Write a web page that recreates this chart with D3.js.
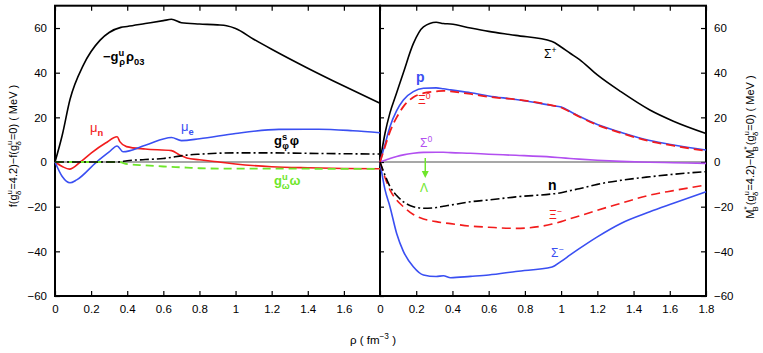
<!DOCTYPE html>
<html>
<head>
<meta charset="utf-8">
<script src="https://cdn.jsdelivr.net/npm/d3@7"></script>
<style>
  body { margin: 0; background: #fff; }
  svg { font-family: "Liberation Sans", Arial, sans-serif; }
</style>
</head>
<body>
<div id="chart"></div>
<script>
// densities (fm^-3) and differences (MeV)
// left panel: fields and chemical potentials
const rhoL = [0, 0.04, 0.083, 0.157, 0.25, 0.3, 0.365, 0.4, 0.5, 0.6, 0.645, 0.7, 0.8, 0.9, 0.95, 1.0, 1.1, 1.2, 1.4, 1.6, 1.8];
const rhoField = [0, 12, 28, 43.4, 54.6, 58, 60.3, 60.7, 62, 63.3, 63.9, 62.4, 61.8, 61.4, 61, 59.8, 55, 50.5, 42, 34, 26.3];

const muRho = [0, 0.04, 0.08, 0.14, 0.2, 0.28, 0.344, 0.36, 0.396, 0.5, 0.645, 0.69, 0.73, 0.8, 0.9, 1.0, 1.2, 1.4, 1.6, 1.8];
const muN =   [0, -2, -3.2, 0, 4, 8.5, 11.3, 9, 6.9, 5.8, 5.1, 3.2, 1.8, 1.0, 0.1, -0.9, -2.1, -2.6, -2.9, -3];
const muERho = [0, 0.04, 0.083, 0.12, 0.23, 0.3, 0.344, 0.377, 0.5, 0.645, 0.7, 0.8, 1.0, 1.24, 1.46, 1.65, 1.8];
const muE =    [0, -6.5, -9.3, -8, 0, 4.5, 7.2, 4.6, 7.5, 11, 9.6, 10.4, 12.8, 14.6, 14.7, 14, 13.1];

const fieldRho = [0, 0.35, 0.4, 0.5, 0.6, 0.73, 0.8, 1.0, 1.2, 1.4, 1.6, 1.8];
const phiField = [0, 0, 0.6, 1.1, 1.6, 3.1, 3.5, 4.1, 4.1, 3.9, 3.7, 3.6];
const omegaField = [0, 0, -0.9, -1.5, -2, -2.5, -2.8, -3, -3, -3, -3.1, -3.1];

// right panel: effective masses of the baryons
const rhoR = [0, 0.028, 0.055, 0.092, 0.129, 0.184, 0.24, 0.31, 0.35, 0.39, 0.5, 0.6, 0.75, 0.95, 1.0, 1.05, 1.1, 1.2, 1.33, 1.49, 1.62, 1.8];
const sigPlus = [0, 13, 22, 31, 40, 53, 60.5, 62.6, 62, 61.8, 60, 58.5, 56.7, 54, 51.5, 48.7, 46, 39, 31.5, 23.3, 18.3, 12.8];
const proton =  [0, 8, 15.8, 23, 27.8, 31.5, 33, 33.2, 32.8, 32.3, 31, 29.6, 28, 25.3, 24.6, 22.6, 20.5, 16.8, 13.3, 9.6, 7.6, 5.4];
const xi0 =     [0, 7, 13.6, 20, 24.8, 29, 30.8, 31.6, 31.9, 31.6, 30.5, 29.2, 28, 25.4, 24.4, 22.4, 20.3, 16.6, 13, 9.3, 7.3, 5.0];
const sig0 =    [0, 0.8, 1.6, 2.5, 3.2, 3.9, 4.3, 4.4, 4.4, 4.2, 3.9, 3.5, 3.0, 2.2, 1.9, 1.6, 1.3, 0.8, 0.3, -0.1, -0.3, -0.6];
const neutron = [0, -6, -11, -15, -17.8, -20, -20.7, -20.4, -19.8, -19.3, -17.8, -17, -15.6, -14.3, -13.8, -12.8, -12, -10, -8.2, -6.6, -5.5, -4.3];
const xiMinus = [0, -7, -12.5, -17, -20, -23.5, -25.5, -26.7, -27.2, -27.6, -28.7, -29.2, -29.7, -27.8, -26.7, -25.4, -24.2, -21.6, -18.5, -14.8, -12.8, -10.3];
const sigMinus = [0, -12.5, -20, -32, -40, -46.9, -50.6, -51.3, -50.9, -51.8, -51.2, -50.6, -49, -47, -44.5, -41.6, -38.8, -33.5, -27.5, -22.3, -18.5, -13.3];

// Λ arrow (rho, from, to)
const lambdaArrow = [0.25, 1.8, -7.2];

const xTicksL = [0, 0.2, 0.4, 0.6, 0.8, 1, 1.2, 1.4, 1.6];
const xTicksR = [0, 0.2, 0.4, 0.6, 0.8, 1, 1.2, 1.4, 1.6, 1.8];
const yTicks = [-60, -40, -20, 0, 20, 40, 60];

const W = 763, H = 353;
const svg = d3.select("#chart").append("svg")
  .attr("width", W).attr("height", H);

const xL = d3.scaleLinear().domain([0, 1.8]).range([55, 380]);
const xR = d3.scaleLinear().domain([0, 1.8]).range([380, 706]);
const y = d3.scaleLinear().domain([-60, 70]).range([296, 5.7]);

const fmt = d => d === 0 ? "0" : (d < 0 ? "\u2212" + Math.abs(d) : String(d));

// zero line
svg.append("line")
  .attr("x1", xL(0)).attr("x2", xR(1.8))
  .attr("y1", y(0)).attr("y2", y(0))
  .attr("stroke", "#8a8a8a").attr("stroke-width", 1.5);

// axes with inward ticks
function ticksX(scale, vals) {
  svg.append("g").attr("transform", `translate(0,${y(-60)})`)
    .call(d3.axisBottom(scale).tickValues(vals).tickSize(-5).tickPadding(9)
      .tickFormat(d => d3.format("")(d)))
    .call(g => g.select(".domain").remove());
  svg.append("g").attr("transform", `translate(0,${y(70)})`)
    .call(d3.axisTop(scale).tickValues(vals).tickSize(-5).tickFormat(""))
    .call(g => g.select(".domain").remove());
}
ticksX(xL, xTicksL);
ticksX(xR, xTicksR);

svg.append("g").attr("transform", `translate(${xL(0)},0)`)
  .call(d3.axisLeft(y).tickValues(yTicks).tickSize(-5).tickPadding(8).tickFormat(fmt))
  .call(g => g.select(".domain").remove());
svg.append("g").attr("transform", `translate(${xR(0)},0)`)
  .call(d3.axisLeft(y).tickValues(yTicks).tickSize(-4).tickFormat(""))
  .call(g => g.select(".domain").remove());
svg.append("g").attr("transform", `translate(${xR(1.8)},0)`)
  .call(d3.axisRight(y).tickValues(yTicks).tickSize(-5).tickPadding(8).tickFormat(fmt))
  .call(g => g.select(".domain").remove());

svg.selectAll(".tick text").attr("font-size", 11.5).attr("font-family", "Liberation Sans, Arial, sans-serif");
svg.selectAll(".tick line").attr("stroke-width", 1.2);

// frames
[xL, xR].forEach(s => {
  svg.append("rect")
    .attr("x", s(0)).attr("y", y(70))
    .attr("width", s(1.8) - s(0)).attr("height", y(-60) - y(70))
    .attr("fill", "none").attr("stroke", "#000").attr("stroke-width", 2);
});

// curves
function curve(xs, xv, yv, color, dash, width) {
  const pts = xv.map((v, i) => [v, yv[i]]);
  svg.append("path")
    .attr("d", d3.line().x(d => xs(d[0])).y(d => y(d[1])).curve(d3.curveMonotoneX)(pts))
    .attr("fill", "none").attr("stroke", color)
    .attr("stroke-width", width || 1.6)
    .attr("stroke-dasharray", dash || null);
}
const BLUE = "#3a4ff2", RED = "#f21c1c", GREEN = "#6ee62a", PURPLE = "#b24ff0";

curve(xL, rhoL, rhoField, "#000");
curve(xL, muRho, muN, RED);
curve(xL, muERho, muE, BLUE);
curve(xL, fieldRho, omegaField, GREEN, "8,5", 1.8);
curve(xL, fieldRho, phiField, "#000", "9,3,2,3");

curve(xR, rhoR, sigPlus, "#000");
curve(xR, rhoR, sig0, PURPLE);
curve(xR, rhoR, proton, BLUE);
curve(xR, rhoR, xi0, RED, "9,5", 1.8);
curve(xR, rhoR, sigMinus, BLUE);
curve(xR, rhoR, xiMinus, RED, "9,5", 1.6);
curve(xR, rhoR, neutron, "#000", "9,3,2,3");

// Λ arrow
svg.append("line")
  .attr("x1", xR(lambdaArrow[0])).attr("x2", xR(lambdaArrow[0]))
  .attr("y1", y(lambdaArrow[1])).attr("y2", y(lambdaArrow[2]) - 6)
  .attr("stroke", GREEN).attr("stroke-width", 1.5);
svg.append("path")
  .attr("d", `M${xR(lambdaArrow[0]) - 3.5},${y(lambdaArrow[2]) - 7} L${xR(lambdaArrow[0]) + 3.5},${y(lambdaArrow[2]) - 7} L${xR(lambdaArrow[0])},${y(lambdaArrow[2])} Z`)
  .attr("fill", GREEN);

// rich text helper: parts = [text, kind, dx, weight]
function rich(x, yy, parts, opt) {
  const size = opt.size || 12;
  const t = svg.append("text").attr("x", x).attr("y", yy)
    .attr("fill", opt.color || "#000")
    .attr("font-weight", opt.bold ? "bold" : null)
    .attr("font-size", size);
  if (opt.rotate) t.attr("transform", `rotate(-90,${x},${yy})`).attr("text-anchor", "middle");
  if (opt.anchor) t.attr("text-anchor", opt.anchor);
  let cur = 0;
  parts.forEach(([txt, k, dx, w]) => {
    const off = k === "sup" ? -0.42 * size : k === "sub" ? 0.32 * size : 0;
    const ts = t.append("tspan").attr("dy", off - cur).attr("dx", dx || 0)
      .attr("font-size", k ? size * 0.72 : size).text(txt);
    if (w) ts.attr("font-weight", w);
    cur = off;
  });
  return t;
}

// left-panel labels
rich(103, 61, [["\u2212g"], ["u", "sup"], ["\u03c1", "sub", -5], ["\u03c1", null, 1], ["03", "sub"]], { bold: true, size: 13 });
rich(90, 132, [["\u03bc"], ["n", "sub", 0, "bold"]], { color: RED, size: 13 });
rich(181, 131, [["\u03bc"], ["e", "sub", 0, "bold"]], { color: BLUE, size: 13 });
rich(274, 145, [["g"], ["s", "sup"], ["\u03c6", "sub", -5], ["\u03c6", null, 1]], { bold: true, size: 13 });
rich(274, 185, [["g"], ["u", "sup"], ["\u03c9", "sub", -6], ["\u03c9", null, 0]], { bold: true, size: 13, color: GREEN });

// right-panel labels
rich(544, 58, [["\u03a3"], ["+", "sup"]], { size: 12 });
rich(416, 82, [["p"]], { bold: true, size: 14, color: BLUE });
rich(418, 104, [["\u039e"], ["0", "sup"]], { size: 12, color: RED });
rich(420, 147, [["\u03a3"], ["0", "sup"]], { size: 12, color: PURPLE });
rich(420, 192, [["\u039b"]], { size: 12, color: GREEN });
rich(548, 190, [["n"]], { bold: true, size: 14 });
rich(549, 219, [["\u039e"], ["\u2212", "sup"]], { size: 12, color: RED });
rich(551, 257, [["\u03a3"], ["\u2212", "sup"]], { size: 12, color: BLUE });

// axis titles
rich(373, 344, [["\u03c1 ( fm"], ["\u22123", "sup"], [" )"]], { size: 11.5, anchor: "middle" });
rich(17, 146, [["f(g"], ["u", "sup"], ["\u03b4", "sub", -5], ["=4.2)\u2212f(g", null, 1], ["u", "sup"], ["\u03b4", "sub", -5], ["=0) ( MeV )", null, 1]], { size: 11, rotate: true });
rich(754, 147, [["M"], ["*", "sup"], ["B", "sub", -5], ["(g", null, 1], ["u", "sup"], ["\u03b4", "sub", -5], ["=4.2)\u2212M", null, 1], ["*", "sup"], ["B", "sub", -5], ["(g", null, 1], ["u", "sup"], ["\u03b4", "sub", -5], ["=0) ( MeV )", null, 1]], { size: 11, rotate: true });
</script>
</body>
</html>
